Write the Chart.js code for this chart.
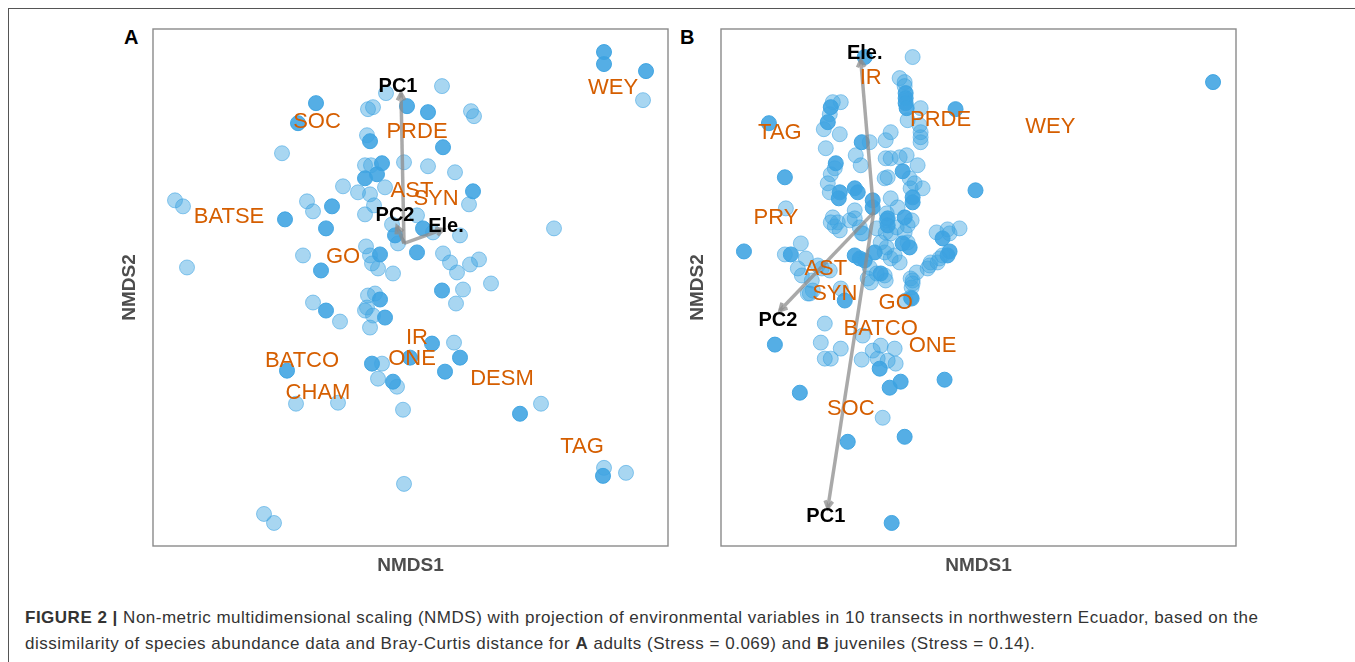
<!DOCTYPE html>
<html><head><meta charset="utf-8">
<script src="https://cdn.jsdelivr.net/npm/chart.js@4.4.1/dist/chart.umd.min.js"></script>
<style>
html,body{margin:0;padding:0;background:#fff;width:1355px;height:662px;overflow:hidden;font-family:"Liberation Sans",Arial,sans-serif;}
#frame{position:absolute;left:8px;top:8px;width:1370px;height:680px;border-left:1px solid #555;border-top:1px solid #555;}
.wrap{position:absolute;top:19px;width:570px;height:566px;}
.panel{position:absolute;font-weight:bold;font-size:20px;color:#000;line-height:20px;}
.cap{position:absolute;left:25px;font-size:17px;letter-spacing:0.5px;line-height:20px;color:#333;white-space:nowrap;}
</style></head>
<body>
<div id="frame"></div>
<div class="panel" style="left:124px;top:27px">A</div>
<div class="panel" style="left:680px;top:27px">B</div>
<div class="wrap" style="left:110px"><canvas id="cA" width="570" height="566"></canvas></div>
<div class="wrap" style="left:678px"><canvas id="cB" width="570" height="566"></canvas></div>
<div class="cap" style="top:608px"><b>FIGURE 2 |</b> Non-metric multidimensional scaling (NMDS) with projection of environmental variables in 10 transects in northwestern Ecuador, based on the</div>
<div class="cap" style="top:634px">dissimilarity of species abundance data and Bray-Curtis distance for <b>A</b> adults (Stress = 0.069) and <b>B</b> juveniles (Stress = 0.14).</div>
<script>
// ---------- DATA ----------
const axisTitles = ['NMDS1', 'NMDS2'];
const xRangeA = [-2.57, 2.58], yRangeA = [-2.58, 2.58];
const xRangeB = [-2.58, 2.58], yRangeB = [-2.58, 2.58];

// Panel A (adults) site scores: single sites and overlapping (stacked) sites
const adultSingle = [
 [2.33,1.87],[0.32,2.01],[-0.24,1.94],[-0.42,1.78],[-0.37,1.80],[0.61,1.76],[0.64,1.71],[-0.43,1.52],
 [-1.28,1.34],[-0.06,1.25],[0.18,1.21],[-0.45,1.22],[-0.39,1.22],[0.45,1.15],[-0.25,1.00],[-0.67,1.01],
 [-0.52,0.95],[-0.40,0.93],[0.59,0.83],[-2.35,0.87],[-2.27,0.81],[-1.03,0.86],[-0.97,0.76],[-0.45,0.73],
 [-0.36,0.82],[-0.18,0.63],[-0.12,0.44],[0.07,0.72],[0.23,0.55],[0.50,0.52],[1.44,0.59],[-1.07,0.32],
 [-2.23,0.20],[-0.44,0.41],[-0.40,0.32],[-0.38,0.24],[-0.32,0.19],[-0.17,0.14],[0.33,0.34],[0.40,0.25],
 [0.47,0.15],[0.60,0.23],[0.69,0.28],[0.53,-0.02],[0.81,0.04],[0.46,-0.16],[-0.97,-0.15],[-0.70,-0.34],
 [-0.42,-0.08],[-0.35,-0.06],[-0.43,-0.20],[-0.45,-0.23],[-0.37,-0.28],[-0.40,-0.40],[0.44,-0.55],
 [-0.28,-0.76],[-0.32,-0.91],[-0.13,-0.99],[-1.14,-1.16],[-0.72,-1.15],[-0.07,-1.22],[1.31,-1.16],
 [1.94,-1.80],[2.16,-1.85],[-0.06,-1.96],[-1.46,-2.26],[-1.36,-2.35]
];
const adultStacked = [
 [1.94,2.35],[1.94,2.23],[2.36,2.16],[-0.03,1.81],[0.18,1.75],[-0.94,1.84],[-1.12,1.64],[-0.40,1.46],
 [0.33,1.40],[-0.28,1.24],[-0.33,1.13],[-0.45,1.09],[0.63,0.96],[-0.78,0.81],[-1.25,0.68],[-0.84,0.59],
 [-0.15,0.52],[0.13,0.59],[-0.89,0.17],[-0.30,0.33],[0.07,0.35],[0.32,-0.03],[-0.84,-0.23],[-0.30,-0.12],
 [-0.25,-0.30],[0.22,-0.56],[0.50,-0.70],[0.00,-0.70],[-0.38,-0.76],[-0.17,-0.94],[0.35,-0.84],
 [-1.23,-0.83],[1.10,-1.26],[1.93,-1.88]
];
const adultSpecies  = ['WEY','SOC','PRDE','AST','SYN','BATSE','GO','IR','ONE','BATCO','CHAM','DESM','TAG'];
const adultSpeciesX = [2.03,-0.93,0.07,0.02,0.26,-1.81,-0.67,0.07,0.02,-1.08,-0.92,0.92,1.72];
const adultSpeciesY = [1.99,1.65,1.55,0.96,0.88,0.70,0.31,-0.50,-0.71,-0.73,-1.05,-0.91,-1.59];
const adultVectorNames = ['PC1','PC2','Ele.'];
const adultVectorOrigin = [-0.06,0.44];
const adultVectorTipX = [-0.09,-0.13,0.33];
const adultVectorTipY = [1.94,0.61,0.58];
const adultVectorLabelX = [-0.12,-0.15,0.36];
const adultVectorLabelY = [2.01,0.72,0.61];

// Panel B (juveniles)
const juvenileSingle = [
 [-0.66,2.30],[-0.79,2.09],[-0.74,2.05],[-0.74,2.01],[-0.58,1.79],[-0.71,1.67],[-0.59,1.62],[-0.58,1.55],
 [-0.58,1.50],[-0.58,1.45],[-1.38,1.85],[-1.46,1.85],[-1.49,1.73],[-1.55,1.58],[-1.39,1.53],[-1.09,1.45],
 [-0.93,1.47],[-0.88,1.55],[-1.23,1.32],[-1.18,1.22],[-1.53,1.39],[-0.93,1.29],[-0.88,1.29],[-0.79,1.30],
 [-0.72,1.32],[-0.61,1.22],[-0.94,1.09],[-0.91,1.10],[-1.44,1.19],[-1.48,1.13],[-1.51,1.04],[-1.49,0.95],
 [-0.69,1.09],[-0.68,0.99],[-0.64,1.04],[-0.56,0.99],[-0.88,0.89],[-0.81,0.80],[-1.93,0.79],[-1.46,0.70],
 [-1.48,0.65],[-1.41,0.65],[-1.44,0.61],[-1.24,0.77],[-1.24,0.69],[-1.19,0.60],[-1.16,0.54],[-0.93,0.55],
 [-0.88,0.54],[-0.71,0.62],[-0.74,0.55],[-0.71,0.45],[-0.19,0.59],[-0.31,0.58],[-0.39,0.29],[-0.48,0.25],
 [-0.51,0.19],[-0.62,0.15],[-0.68,0.09],[-1.78,0.44],[-1.94,0.33],[-1.73,0.29],[-1.81,0.19],[-1.61,0.22],
 [-1.77,0.12],[-1.67,0.07],[-1.66,-0.03],[-1.69,-0.06],[-1.57,0.19],[-1.49,0.17],[-1.38,-0.01],[-0.98,0.45],
 [-0.94,0.35],[-0.88,0.29],[-1.11,0.09],[-1.09,0.20],[-1.02,0.14],[-0.94,0.12],[-0.92,0.40],[-0.84,0.32],
 [-0.79,0.25],[-0.66,0.07],[-0.67,0.00],[-0.49,0.22],[-0.41,0.25],[-0.36,0.32],[-0.29,0.54],[-0.42,0.55],
 [-1.02,0.59],[-0.92,0.67],[-0.82,0.60],[-0.92,0.74],[-0.67,0.67],[-1.39,0.57],[-1.29,0.67],[-1.17,0.54],
 [-1.71,-0.06],[-1.08,0.05],[-0.93,0.07],[-0.66,0.04],[-0.68,-0.10],[-0.73,-0.13],[-1.54,-0.36],
 [-1.16,-0.48],[-1.58,-0.55],[-1.38,-0.61],[-1.54,-0.71],[-1.48,-0.71],[-1.06,-0.63],[-0.98,-0.58],
 [-0.84,-0.61],[-1.01,-0.71],[-0.91,-0.73],[-0.83,-0.76],[-1.17,-0.72],[-0.96,-1.30]
];
const juvenileStacked = [
 [2.35,2.05],[-1.14,2.30],[-0.73,1.94],[-0.73,1.89],[-0.73,1.84],[-0.72,1.79],[-0.23,1.78],[-2.10,1.64],
 [-1.48,1.80],[-1.51,1.65],[-1.17,1.45],[-0.76,1.16],[-1.43,1.24],[-1.94,1.10],[-1.24,0.99],[-1.21,0.95],
 [-1.39,0.95],[-1.40,0.89],[-1.06,0.87],[-1.06,0.80],[-0.66,0.90],[-0.66,0.85],[-0.03,0.97],[-2.35,0.36],
 [-0.91,0.69],[-0.91,0.62],[-0.74,0.70],[-0.29,0.36],[-0.31,0.32],[-0.36,0.49],[-1.88,0.33],[-1.24,0.32],
 [-1.19,0.29],[-1.14,0.27],[-1.04,0.35],[-0.98,0.14],[-0.76,0.44],[-0.69,0.40],[-0.67,-0.11],[-1.34,-0.13],
 [-2.04,-0.57],[-0.99,-0.81],[-0.89,-1.00],[-0.78,-0.94],[-0.34,-0.92],[-1.79,-1.05],[-1.31,-1.54],
 [-0.74,-1.49],[-0.87,-2.35]
];
const juvenileSpecies  = ['IR','PRDE','WEY','TAG','PRY','AST','SYN','GO','BATCO','ONE','SOC'];
const juvenileSpeciesX = [-1.08,-0.38,0.72,-1.99,-2.03,-1.53,-1.44,-0.83,-0.98,-0.46,-1.28];
const juvenileSpeciesY = [2.09,1.67,1.60,1.54,0.69,0.19,-0.06,-0.15,-0.41,-0.58,-1.21];
const juvenileVectorNames = ['Ele.','PC1','PC2'];
const juvenileVectorOrigin = [-1.05,0.75];
const juvenileVectorTipX = [-1.18,-1.51,-1.99];
const juvenileVectorTipY = [2.27,-2.20,-0.23];
const juvenileVectorLabelX = [-1.14,-1.53,-2.01];
const juvenileVectorLabelY = [2.34,-2.29,-0.33];

// ---------- STYLE ----------
const FONT = '"Liberation Sans", Arial, sans-serif';
const lightFill = 'rgba(61,163,225,0.45)', lightEdge = 'rgba(61,163,225,0.55)';
const darkFill = 'rgba(61,163,225,0.88)', darkEdge = 'rgba(61,163,225,0.95)';

const overlay = {
  id: 'overlay',
  afterDatasetsDraw(chart, args, o) {
    const {ctx, chartArea: a, scales: {x, y}} = chart;
    ctx.save();
    // plot frame
    ctx.strokeStyle = '#8a8a8a'; ctx.lineWidth = 1.4;
    ctx.strokeRect(a.left, a.top, a.right - a.left, a.bottom - a.top);
    // vectors
    ctx.strokeStyle = 'rgba(140,140,140,0.75)'; ctx.lineWidth = 3.5; ctx.lineCap = 'butt';
    const ox = x.getPixelForValue(o.origin[0]), oy = y.getPixelForValue(o.origin[1]);
    for (let i = 0; i < o.tipX.length; i++) {
      const tx = x.getPixelForValue(o.tipX[i]), ty = y.getPixelForValue(o.tipY[i]);
      ctx.beginPath(); ctx.moveTo(ox, oy); ctx.lineTo(tx, ty); ctx.stroke();
      const ang = Math.atan2(ty - oy, tx - ox), L = 8;
      ctx.beginPath();
      ctx.moveTo(tx - L * Math.cos(ang - 0.5), ty - L * Math.sin(ang - 0.5));
      ctx.lineTo(tx, ty);
      ctx.lineTo(tx - L * Math.cos(ang + 0.5), ty - L * Math.sin(ang + 0.5));
      ctx.stroke();
    }
    ctx.textAlign = 'center'; ctx.textBaseline = 'middle';
    // species labels
    ctx.font = '22px ' + FONT; ctx.fillStyle = '#D55E00';
    o.names.forEach((n, i) => ctx.fillText(n, x.getPixelForValue(o.nx[i]), y.getPixelForValue(o.ny[i])));
    // vector labels
    ctx.font = 'bold 20px ' + FONT; ctx.fillStyle = '#000';
    o.vnames.forEach((n, i) => ctx.fillText(n, x.getPixelForValue(o.vx[i]), y.getPixelForValue(o.vy[i])));
    ctx.restore();
  }
};

function axis(range, text, pad) {
  return {
    type: 'linear', min: range[0], max: range[1],
    ticks: {display: false}, grid: {display: false, drawTicks: false}, border: {display: false},
    title: {display: true, text: text, color: '#4d4d4d', font: {family: FONT, size: 19, weight: 'bold', lineHeight: 1.2}, padding: pad}
  };
}

function makeChart(id, single, stacked, xr, yr, ov) {
  const toPts = arr => arr.map(p => ({x: p[0], y: p[1]}));
  new Chart(document.getElementById(id), {
    type: 'scatter',
    data: {datasets: [
      {data: toPts(stacked), backgroundColor: darkFill, borderColor: darkEdge, borderWidth: 1, pointRadius: 7.5},
      {data: toPts(single), backgroundColor: lightFill, borderColor: lightEdge, borderWidth: 1, pointRadius: 7.5}
    ]},
    options: {
      responsive: false, animation: false, devicePixelRatio: 1,
      layout: {padding: {top: 10, right: 12, left: 0, bottom: 0}},
      plugins: {legend: {display: false}, tooltip: {enabled: false}, overlay: ov},
      scales: {
        x: axis(xr, axisTitles[0], {top: 8.6, bottom: 7.6}),
        y: axis(yr, axisTitles[1], {top: 8.6, bottom: 11.6})
      }
    },
    plugins: [overlay]
  });
}

makeChart('cA', adultSingle, adultStacked, xRangeA, yRangeA, {
  origin: adultVectorOrigin, tipX: adultVectorTipX, tipY: adultVectorTipY,
  names: adultSpecies, nx: adultSpeciesX, ny: adultSpeciesY,
  vnames: adultVectorNames, vx: adultVectorLabelX, vy: adultVectorLabelY
});
makeChart('cB', juvenileSingle, juvenileStacked, xRangeB, yRangeB, {
  origin: juvenileVectorOrigin, tipX: juvenileVectorTipX, tipY: juvenileVectorTipY,
  names: juvenileSpecies, nx: juvenileSpeciesX, ny: juvenileSpeciesY,
  vnames: juvenileVectorNames, vx: juvenileVectorLabelX, vy: juvenileVectorLabelY
});
</script>
</body></html>
